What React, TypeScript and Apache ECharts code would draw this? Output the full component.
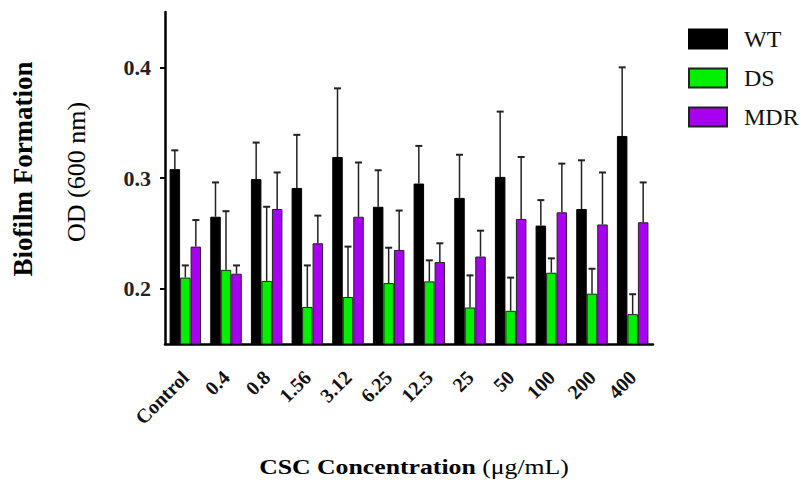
import React, { useEffect, useRef } from "react";
import * as echarts from "echarts";

const categories = ["Control", "0.4", "0.8", "1.56", "3.12", "6.25", "12.5", "25", "50", "100", "200", "400"];
const wtValues = [0.308, 0.265, 0.299, 0.291, 0.319, 0.274, 0.295, 0.282, 0.301, 0.257, 0.272, 0.338];
const wtErrors = [0.017, 0.031, 0.033, 0.048, 0.062, 0.033, 0.034, 0.039, 0.059, 0.023, 0.044, 0.062];
const dsValues = [0.21, 0.217, 0.207, 0.1835, 0.1925, 0.205, 0.2066, 0.183, 0.18, 0.2144, 0.1955, 0.177];
const dsErrors = [0.011, 0.053, 0.067, 0.0375, 0.0455, 0.032, 0.019, 0.029, 0.03, 0.013, 0.0225, 0.018];
const mdrValues = [0.238, 0.2135, 0.272, 0.241, 0.265, 0.235, 0.224, 0.229, 0.263, 0.269, 0.258, 0.26];
const mdrErrors = [0.024, 0.0075, 0.033, 0.025, 0.049, 0.0356, 0.017, 0.0234, 0.056, 0.044, 0.047, 0.036];
const yTickValues = [0.2, 0.3, 0.4];

const FONT = "'Liberation Serif', 'Times New Roman', serif";
const BAR_W = 10.5;

function errorSeries(name: string, values: number[], errors: number[], slot: number) {
  return {
    type: "custom",
    name,
    z: 5,
    silent: true,
    encode: { x: 0, y: 1 },
    data: values.map((v, i) => [i, v, errors[i]]),
    renderItem: (params: any, api: any) => {
      const idx = api.value(0);
      const mean = api.value(1);
      const err = api.value(2);
      const p0 = api.coord([idx, mean]);
      const p1 = api.coord([idx, mean + err]);
      const x = p0[0] + slot * BAR_W;
      const style = { stroke: "#222", lineWidth: 1.5 };
      return {
        type: "group",
        children: [
          { type: "line", shape: { x1: x, y1: p0[1], x2: x, y2: p1[1] }, style },
          { type: "line", shape: { x1: x - 3.5, y1: p1[1], x2: x + 3.5, y2: p1[1] }, style: { stroke: "#222", lineWidth: 2 } },
        ],
      };
    },
  };
}

export default function App() {
  const ref = useRef<HTMLDivElement>(null);
  useEffect(() => {
    if (!ref.current) return;
    const chart = echarts.init(ref.current, null, { renderer: "svg" });
    const option: any = {
      animation: false,
      backgroundColor: "#ffffff",
      textStyle: { fontFamily: FONT },
      grid: { left: 165, right: 147, top: 12, bottom: 137 },
      legend: {
        orient: "vertical",
        left: 683,
        top: 22,
        itemWidth: 38,
        itemHeight: 19,
        itemGap: 15,
        icon: "rect",
        data: ["WT", "DS", "MDR"],
        textStyle: { fontFamily: FONT, fontSize: 24, color: "#111", padding: [0, 0, 0, 12] },
      },
      xAxis: {
        type: "category",
        data: categories,
        axisLine: { lineStyle: { color: "#000", width: 2.5 } },
        axisTick: { alignWithLabel: true, length: 7, lineStyle: { color: "#000", width: 2 } },
        axisLabel: {
          interval: 0,
          rotate: 45,
          margin: 30,
          fontFamily: FONT,
          fontWeight: "bold",
          fontSize: 20,
          color: "#111",
        },
        splitLine: { show: false },
      },
      yAxis: {
        type: "value",
        min: 0.15,
        max: 0.45,
        interval: 0.05,
        axisLine: { show: true, lineStyle: { color: "#000", width: 2.5 } },
        axisTick: { show: true, length: 5, customValues: yTickValues, lineStyle: { color: "#000", width: 2 } },
        axisLabel: {
          customValues: yTickValues,
          margin: 14,
          fontFamily: FONT,
          fontWeight: "bold",
          fontSize: 22,
          color: "#222",
          formatter: (v: number) => v.toFixed(1),
        },
        splitLine: { show: false },
      },
      series: [
        {
          type: "bar",
          name: "WT",
          data: wtValues,
          barWidth: BAR_W,
          barGap: "0%",
          itemStyle: { color: "#000000", borderColor: "#000", borderWidth: 1 },
        },
        {
          type: "bar",
          name: "DS",
          data: dsValues,
          barWidth: BAR_W,
          barGap: "0%",
          itemStyle: { color: "#00F000", borderColor: "#222", borderWidth: 1 },
        },
        {
          type: "bar",
          name: "MDR",
          data: mdrValues,
          barWidth: BAR_W,
          barGap: "0%",
          itemStyle: { color: "#A800F0", borderColor: "#222", borderWidth: 1 },
        },
        errorSeries("WT error", wtValues, wtErrors, -1),
        errorSeries("DS error", dsValues, dsErrors, 0),
        errorSeries("MDR error", mdrValues, mdrErrors, 1),
      ],
      graphic: [
        {
          type: "text",
          x: 414,
          y: 467,
          scaleX: 1.17,
          style: {
            text: "{b|CSC Concentration} {n|(μg/mL)}",
            align: "center",
            verticalAlign: "middle",
            rich: {
              b: { fontFamily: FONT, fontWeight: "bold", fontSize: 22, fill: "#000" },
              n: { fontFamily: FONT, fontSize: 22, fill: "#000" },
            },
            fontFamily: FONT,
            fontSize: 22,
          },
        },
        {
          type: "text",
          x: 23,
          y: 169,
          rotation: Math.PI / 2,
          style: {
            text: "Biofilm Formation",
            align: "center",
            verticalAlign: "middle",
            fontFamily: FONT,
            fontWeight: "bold",
            fontSize: 27,
            fill: "#000",
          },
        },
        {
          type: "text",
          x: 76,
          y: 172,
          rotation: Math.PI / 2,
          style: {
            text: "OD (600 nm)",
            align: "center",
            verticalAlign: "middle",
            fontFamily: FONT,
            fontSize: 26,
            fill: "#000",
          },
        },
      ],
    };
    chart.setOption(option);
    return () => chart.dispose();
  }, []);
  return <div ref={ref} style={{ position: "fixed", left: 0, top: 0, width: 800, height: 481 }} />;
}
